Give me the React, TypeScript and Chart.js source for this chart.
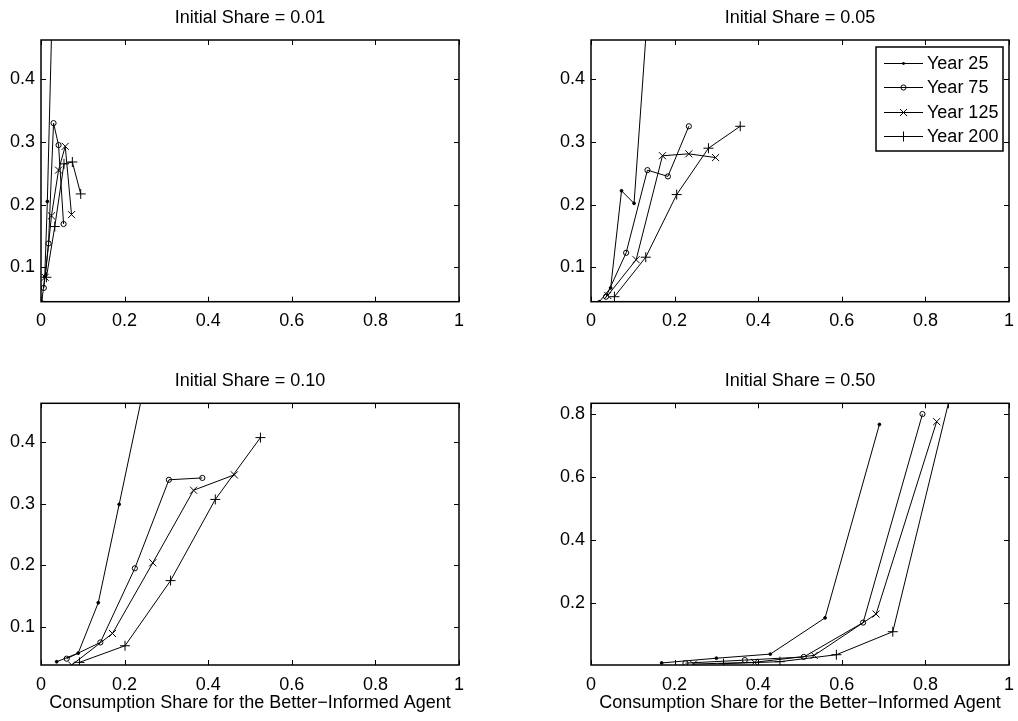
import React, { useEffect, useRef } from "react";
import { Chart, registerables } from "chart.js";

Chart.register(...registerables);

const FONT_FAMILY = "'Liberation Sans', Arial, Helvetica, sans-serif";
const FONT_SIZE = 18;

const seriesNames = ["Year 25", "Year 75", "Year 125", "Year 200"];
const panelTitles = [
  "Initial Share = 0.01",
  "Initial Share = 0.05",
  "Initial Share = 0.10",
  "Initial Share = 0.50",
];
const xAxisLabel = "Consumption Share for the Better\u2212Informed Agent";

const xTickValues = [0, 0.2, 0.4, 0.6, 0.8, 1];
const xTickLabels = ["0", "0.2", "0.4", "0.6", "0.8", "1"];
const yTickValuesSmall = [0.1, 0.2, 0.3, 0.4];
const yTickLabelsSmall = ["0.1", "0.2", "0.3", "0.4"];
const yTickValuesLarge = [0.2, 0.4, 0.6, 0.8];
const yTickLabelsLarge = ["0.2", "0.4", "0.6", "0.8"];

// y-axis limits per panel
const yLimits01 = [0.045, 0.4627];
const yLimits05 = [0.045, 0.4627];
const yLimits10 = [0.0377, 0.4634];
const yLimits50 = [0.0045, 0.834];

// Panel: Initial Share = 0.01
const p01Year25X = [0.002, 0.009, 0.0152, 0.03];
const p01Year25Y = [0.045, 0.085, 0.205, 0.6];
const p01Year75X = [0.0067, 0.018, 0.03, 0.042, 0.054];
const p01Year75Y = [0.067, 0.138, 0.33, 0.295, 0.169];
const p01Year125X = [0.01, 0.025, 0.042, 0.058, 0.073];
const p01Year125Y = [0.084, 0.182, 0.255, 0.293, 0.184];
const p01Year200X = [0.013, 0.033, 0.055, 0.075, 0.095];
const p01Year200Y = [0.084, 0.165, 0.265, 0.268, 0.217];

// Panel: Initial Share = 0.05
const p05Year25X = [0.02, 0.047, 0.073, 0.103, 0.14];
const p05Year25Y = [0.045, 0.067, 0.222, 0.202, 0.55];
const p05Year75X = [0.036, 0.084, 0.135, 0.184, 0.234];
const p05Year75Y = [0.053, 0.123, 0.255, 0.245, 0.325];
const p05Year125X = [0.04, 0.108, 0.171, 0.234, 0.298];
const p05Year125Y = [0.055, 0.112, 0.278, 0.281, 0.275];
const p05Year200X = [0.056, 0.131, 0.205, 0.281, 0.357];
const p05Year200Y = [0.053, 0.116, 0.216, 0.29, 0.325];

// Panel: Initial Share = 0.10
const p10Year25X = [0.0375, 0.089, 0.137, 0.187, 0.265];
const p10Year25Y = [0.043, 0.057, 0.139, 0.299, 0.55];
const p10Year75X = [0.0615, 0.142, 0.2245, 0.306, 0.386];
const p10Year75Y = [0.048, 0.0744, 0.195, 0.339, 0.342];
const p10Year125X = [0.0735, 0.171, 0.2675, 0.365, 0.4625];
const p10Year125Y = [0.0377, 0.089, 0.204, 0.322, 0.347];
const p10Year200X = [0.092, 0.201, 0.31, 0.417, 0.525];
const p10Year200Y = [0.042, 0.069, 0.175, 0.307, 0.4076];

// Panel: Initial Share = 0.50
const p50Year25X = [0.169, 0.3, 0.429, 0.56, 0.69];
const p50Year25Y = [0.011, 0.026, 0.039, 0.154, 0.767];
const p50Year75X = [0.226, 0.368, 0.509, 0.651, 0.793];
const p50Year75Y = [0.0105, 0.02, 0.03, 0.139, 0.8];
const p50Year125X = [0.245, 0.391, 0.534, 0.682, 0.827];
const p50Year125Y = [0.0075, 0.013, 0.035, 0.166, 0.776];
const p50Year200X = [0.317, 0.452, 0.587, 0.722, 0.855];
const p50Year200Y = [0.0088, 0.015, 0.037, 0.11, 0.834];

const panelSeries = [
  [
    [p01Year25X, p01Year25Y],
    [p01Year75X, p01Year75Y],
    [p01Year125X, p01Year125Y],
    [p01Year200X, p01Year200Y],
  ],
  [
    [p05Year25X, p05Year25Y],
    [p05Year75X, p05Year75Y],
    [p05Year125X, p05Year125Y],
    [p05Year200X, p05Year200Y],
  ],
  [
    [p10Year25X, p10Year25Y],
    [p10Year75X, p10Year75Y],
    [p10Year125X, p10Year125Y],
    [p10Year200X, p10Year200Y],
  ],
  [
    [p50Year25X, p50Year25Y],
    [p50Year75X, p50Year75Y],
    [p50Year125X, p50Year125Y],
    [p50Year200X, p50Year200Y],
  ],
];
const panelYLimits = [yLimits01, yLimits05, yLimits10, yLimits50];
const panelYTicks = [
  [yTickValuesSmall, yTickLabelsSmall],
  [yTickValuesSmall, yTickLabelsSmall],
  [yTickValuesSmall, yTickLabelsSmall],
  [yTickValuesLarge, yTickLabelsLarge],
];

// Marker styles (visual)
const markerStyles = [
  { kind: "dot", pointStyle: "circle", radius: 1.4, fill: "#000" },
  { kind: "circle", pointStyle: "circle", radius: 2.6, fill: "rgba(0,0,0,0)" },
  { kind: "crossRot", pointStyle: "crossRot", radius: 5, fill: "rgba(0,0,0,0)" },
  { kind: "cross", pointStyle: "cross", radius: 5, fill: "rgba(0,0,0,0)" },
];

// Layout (visual placement of each panel)
const layouts = [
  { left: 0, top: 0, width: 509, height: 360, l: 41, t: 40, r: 459, b: 301.7, titleCenter: 18, xTitle: false, legend: false },
  { left: 509, top: 0, width: 509, height: 360, l: 82, t: 40, r: 500, b: 301.7, titleCenter: 18, xTitle: false, legend: true },
  { left: 0, top: 360, width: 509, height: 361, l: 41, t: 43.3, r: 459, b: 305, titleCenter: 21.5, xTitle: true, legend: false },
  { left: 509, top: 360, width: 509, height: 361, l: 82, t: 43.3, r: 500, b: 305, titleCenter: 21.5, xTitle: true, legend: false },
];

const TICK_LEN = 5;

function drawMarker(ctx: CanvasRenderingContext2D, kind: string, x: number, y: number, r: number) {
  ctx.beginPath();
  if (kind === "dot") {
    ctx.arc(x, y, r, 0, Math.PI * 2);
    ctx.fillStyle = "#000";
    ctx.fill();
    return;
  }
  if (kind === "circle") {
    ctx.arc(x, y, r, 0, Math.PI * 2);
    ctx.stroke();
    return;
  }
  if (kind === "crossRot") {
    const o = r * Math.SQRT1_2;
    ctx.moveTo(x - o, y - o);
    ctx.lineTo(x + o, y + o);
    ctx.moveTo(x - o, y + o);
    ctx.lineTo(x + o, y - o);
    ctx.stroke();
    return;
  }
  ctx.moveTo(x - r, y);
  ctx.lineTo(x + r, y);
  ctx.moveTo(x, y - r);
  ctx.lineTo(x, y + r);
  ctx.stroke();
}

const matlabAxesPlugin = {
  id: "matlabAxes",
  afterDatasetsDraw(chart: any) {
    const { ctx, chartArea: a, scales } = chart;
    const xs = scales.x;
    const ys = scales.y;
    ctx.save();
    ctx.strokeStyle = "#000";
    ctx.lineWidth = 1;
    ctx.beginPath();
    for (const t of xs.ticks) {
      const px = Math.round(xs.getPixelForValue(t.value)) + 0.5;
      ctx.moveTo(px, a.bottom);
      ctx.lineTo(px, a.bottom - TICK_LEN);
      ctx.moveTo(px, a.top);
      ctx.lineTo(px, a.top + TICK_LEN);
    }
    for (const t of ys.ticks) {
      const py = Math.round(ys.getPixelForValue(t.value)) + 0.5;
      ctx.moveTo(a.left, py);
      ctx.lineTo(a.left + TICK_LEN, py);
      ctx.moveTo(a.right, py);
      ctx.lineTo(a.right - TICK_LEN, py);
    }
    ctx.stroke();
    ctx.lineWidth = 1.5;
    ctx.strokeRect(a.left, a.top, a.right - a.left, a.bottom - a.top);
    ctx.restore();
  },
};

const matlabLegendPlugin = {
  id: "matlabLegend",
  afterDraw(chart: any) {
    const { ctx, chartArea: a } = chart;
    const boxW = 127;
    const boxH = 104;
    const boxR = a.right - 6;
    const boxL = boxR - boxW;
    const boxT = a.top + 7;
    ctx.save();
    ctx.fillStyle = "#fff";
    ctx.fillRect(boxL, boxT, boxW, boxH);
    ctx.strokeStyle = "#000";
    ctx.lineWidth = 1.5;
    ctx.strokeRect(boxL, boxT, boxW, boxH);
    ctx.lineWidth = 1;
    ctx.font = `${FONT_SIZE}px ${FONT_FAMILY}`;
    ctx.textBaseline = "middle";
    ctx.textAlign = "left";
    seriesNames.forEach((name, i) => {
      const cy = Math.round(boxT + 16 + i * 24.3) + 0.5;
      ctx.strokeStyle = "#000";
      ctx.beginPath();
      ctx.moveTo(boxL + 8, cy);
      ctx.lineTo(boxL + 47, cy);
      ctx.stroke();
      drawMarker(ctx, markerStyles[i].kind, boxL + 27.5, cy, markerStyles[i].radius);
      ctx.fillStyle = "#000";
      ctx.fillText(name, boxL + 51, cy + 1);
    });
    ctx.restore();
  },
};

function Panel({ index }: { index: number }) {
  const ref = useRef<HTMLCanvasElement | null>(null);
  const lay = layouts[index];

  useEffect(() => {
    const canvas = ref.current;
    if (!canvas) return;
    const [yMin, yMax] = panelYLimits[index];
    const [yVals, yLabels] = panelYTicks[index];
    const lineHeight = FONT_SIZE * 1.2;
    const titlePadTop = lay.titleCenter - lineHeight / 2;
    const titlePadBottom = lay.t - lineHeight - titlePadTop;

    const datasets = panelSeries[index].map(([xs, ys], i) => ({
      label: seriesNames[i],
      data: xs.map((x: number, k: number) => ({ x, y: ys[k] })),
      showLine: true,
      borderColor: "#000",
      borderWidth: 1,
      tension: 0,
      pointStyle: markerStyles[i].pointStyle,
      pointRadius: markerStyles[i].radius,
      pointHoverRadius: markerStyles[i].radius,
      pointBorderColor: "#000",
      pointBackgroundColor: markerStyles[i].fill,
      pointBorderWidth: 1,
    }));

    const font = { family: FONT_FAMILY, size: FONT_SIZE, weight: "normal" as const, lineHeight: 1.2 };

    const chart = new Chart(canvas, {
      type: "scatter",
      data: { datasets },
      options: {
        animation: false,
        responsive: false,
        devicePixelRatio: 1,
        layout: { padding: { left: 0, top: 0, bottom: 0, right: lay.width - lay.r } },
        plugins: {
          legend: { display: false },
          tooltip: { enabled: false },
          title: {
            display: true,
            text: panelTitles[index],
            color: "#000",
            font,
            fullSize: false,
            padding: { top: titlePadTop, bottom: titlePadBottom },
          },
        },
        scales: {
          x: {
            type: "linear",
            position: "bottom",
            min: 0,
            max: 1,
            grid: { display: false, drawTicks: false, tickLength: 0 },
            border: { display: false },
            afterBuildTicks: (axis: any) => {
              axis.ticks = xTickValues.map((v) => ({ value: v }));
            },
            afterFit: (s: any) => {
              s.height = lay.height - lay.b;
              s.paddingLeft = 0;
              s.paddingRight = 0;
            },
            ticks: {
              color: "#000",
              font,
              padding: 9,
              maxRotation: 0,
              autoSkip: false,
              callback: (v: any) => xTickLabels[xTickValues.indexOf(Number(v))],
            },
            title: {
              display: lay.xTitle,
              text: xAxisLabel,
              color: "#000",
              font,
              padding: { top: 0, bottom: 7 },
            },
          },
          y: {
            type: "linear",
            position: "left",
            min: yMin,
            max: yMax,
            grid: { display: false, drawTicks: false, tickLength: 0 },
            border: { display: false },
            afterBuildTicks: (axis: any) => {
              axis.ticks = yVals.map((v: number) => ({ value: v }));
            },
            afterFit: (s: any) => {
              s.width = lay.l;
              s.paddingTop = 0;
              s.paddingBottom = 0;
            },
            ticks: {
              color: "#000",
              font,
              padding: 6,
              autoSkip: false,
              callback: (v: any) => yLabels[yVals.indexOf(Number(v))],
            },
          },
        },
      },
      plugins: lay.legend ? [matlabAxesPlugin, matlabLegendPlugin] : [matlabAxesPlugin],
    } as any);

    return () => chart.destroy();
  }, [index]);

  return (
    <canvas
      ref={ref}
      width={lay.width}
      height={lay.height}
      style={{ position: "absolute", left: lay.left, top: lay.top, width: lay.width, height: lay.height }}
    />
  );
}

export default function App() {
  return (
    <div style={{ position: "absolute", left: 0, top: 0, width: 1018, height: 721, background: "#fff" }}>
      {[0, 1, 2, 3].map((i) => (
        <Panel key={i} index={i} />
      ))}
    </div>
  );
}
